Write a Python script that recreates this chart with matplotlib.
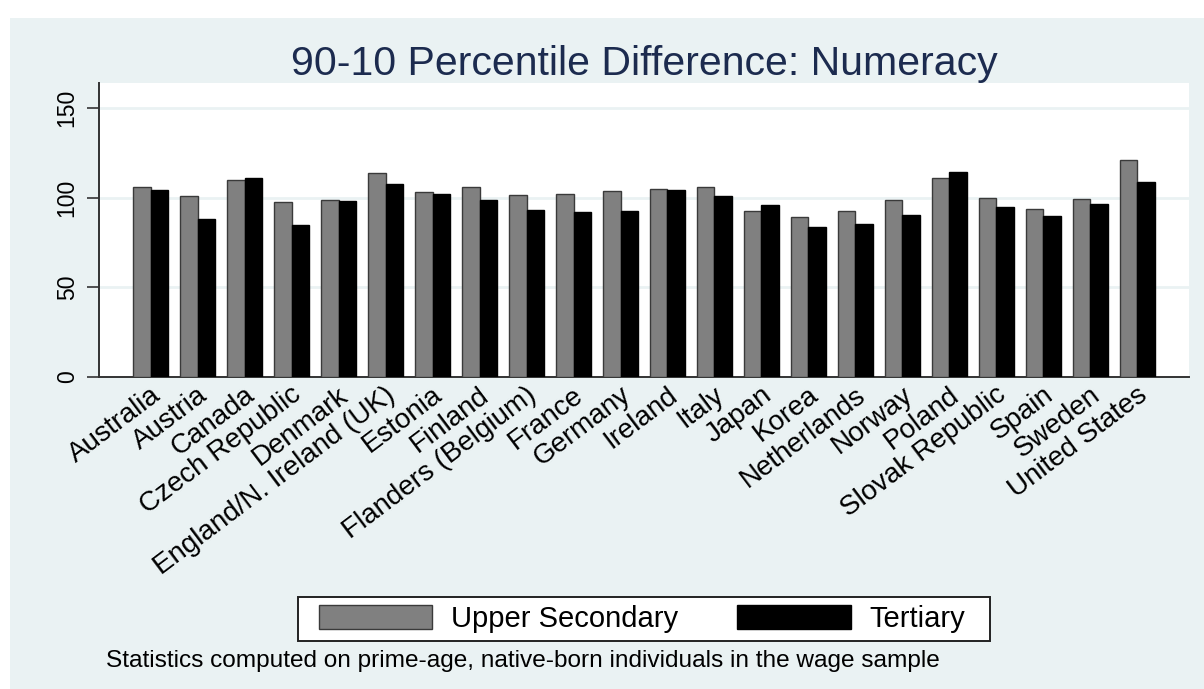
import numpy as np
import matplotlib
matplotlib.use("Agg")
from matplotlib import pyplot as plt
from matplotlib.patches import Rectangle
from matplotlib.transforms import ScaledTranslation

countries = ["Australia", "Austria", "Canada", "Czech Republic", "Denmark",
             "England/N. Ireland (UK)", "Estonia", "Finland", "Flanders (Belgium)",
             "France", "Germany", "Ireland", "Italy", "Japan", "Korea", "Netherlands",
             "Norway", "Poland", "Slovak Republic", "Spain", "Sweden", "United States"]
upper_secondary = [105.9, 101.2, 110.0, 97.7, 98.8, 113.9, 103.2, 105.9, 101.8,
                   102.3, 103.8, 104.9, 105.9, 92.6, 89.3, 92.6, 98.8, 110.9,
                   99.7, 93.7, 99.2, 121.1]
tertiary = [104.5, 88.0, 111.2, 84.8, 98.2, 107.9, 102.0, 98.8, 93.2,
            92.3, 92.4, 104.2, 101.2, 95.8, 83.9, 85.4, 90.4, 114.4,
            95.0, 89.6, 96.7, 108.8]
yticks = [0, 50, 100, 150]

plt.rcParams["font.family"] = ["Liberation Sans", "DejaVu Sans"]
W, H = 1204, 689
bg = "#EAF2F3"

fig = plt.figure(figsize=(W / 100, H / 100), dpi=100, facecolor="white")
fig.patches.append(Rectangle((10 / W, 0), 1, 1 - 18 / H, transform=fig.transFigure,
                             facecolor=bg, edgecolor="none", zorder=-10))

ax = fig.add_axes([99 / W, 1 - 377 / H, (1189 - 99) / W, (377 - 83) / H])
ax.set_facecolor("white")

x = np.arange(len(countries))
w = 0.372
b1 = ax.bar(x - w / 2, upper_secondary, w, color="#808080", edgecolor="#3a3a3a",
            linewidth=1, label="Upper Secondary", zorder=3)
b2 = ax.bar(x + w / 2, tertiary, w, color="black", edgecolor="black",
            linewidth=1, label="Tertiary", zorder=3)

ax.set_xlim(-1.096, len(countries) - 1 + 1.096)
ax.set_ylim(0, 164)
ax.set_yticks(yticks)
ax.set_yticklabels([str(t) for t in yticks], rotation=90, va="center", fontsize=16.5)
ax.tick_params(axis="y", length=8.6, width=1.2, color="#333333", pad=6)
ax.yaxis.grid(True, color=bg, linewidth=2, zorder=0)
ax.set_axisbelow(True)

ax.set_xticks(x)
ax.set_xticklabels(countries, rotation=37, ha="right", va="center",
                   rotation_mode="anchor", fontsize=20)
ax.tick_params(axis="x", length=0, pad=11)
shift = ScaledTranslation(7 / 100, 0, fig.dpi_scale_trans)
for lab in ax.get_xticklabels():
    lab.set_transform(lab.get_transform() + shift)

for s in ["top", "right"]:
    ax.spines[s].set_visible(False)
for s in ["left", "bottom"]:
    ax.spines[s].set_color("#333333")
    ax.spines[s].set_linewidth(1.4)

ax.set_title("90-10 Percentile Difference: Numeracy", fontsize=29.5, color="#1C2B4F", pad=6)

# legend frame drawn separately so it can be wider than the legend contents
fig.patches.append(Rectangle((298 / W, 1 - 641 / H), (990 - 298) / W, 44 / H,
                             transform=fig.transFigure, facecolor="white",
                             edgecolor="#222222", linewidth=1.4, zorder=-5))
leg = fig.legend(handles=[b1, b2], loc="center", bbox_to_anchor=(642 / W, 1 - 619 / H),
                 ncol=2, fontsize=21, frameon=False,
                 handlelength=3.9, handleheight=0.85,
                 handletextpad=0.65, columnspacing=2.0, borderpad=0.3)

fig.text(106 / W, 1 - 661 / H,
         "Statistics computed on prime-age, native-born individuals in the wage sample",
         fontsize=17.6, va="center", ha="left")

fig.savefig("out.png", dpi=100, facecolor=fig.get_facecolor())
